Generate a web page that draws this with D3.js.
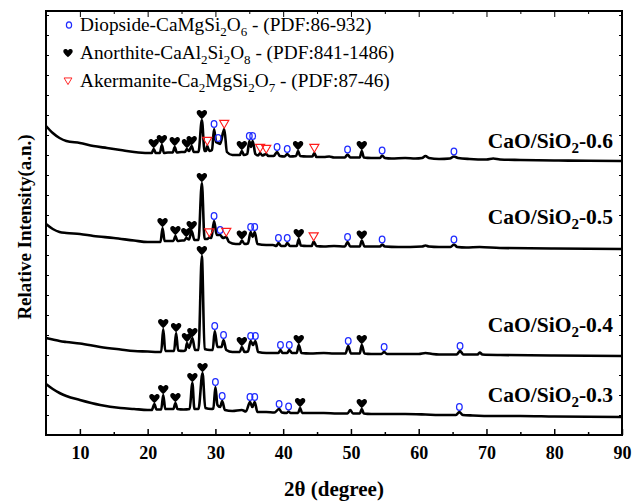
<!DOCTYPE html>
<html>
<head>
<meta charset="utf-8">
<script src="https://cdn.jsdelivr.net/npm/d3@7/dist/d3.min.js"></script>
<style>
  body { margin: 0; background: #fff; }
  svg { display: block; font-family: "Liberation Serif", "Times New Roman", serif; }
</style>
</head>
<body>
<svg id="chart" width="642" height="503"></svg>
<script>
// ---- data -------------------------------------------------------------
const xMajorTicks = [10, 20, 30, 40, 50, 60, 70, 80, 90];
const xMinorTicks = [15, 25, 35, 45, 55, 65, 75, 85];
const sampleNames = ["0.6", "0.5", "0.4", "0.3"];
// vertical stacking offset of each pattern (a.u.)
const stackOffsets = [274, 186, 79, 18];

// diffraction patterns: [2θ (deg), relative intensity (a.u.)]
const pattern06 = [
  [5, 35], [6, 28], [7, 23], [8, 20], [10, 18], [12, 15], [14, 13], [16, 11], [18, 9], [20, 8],
  [20.6, 8], [20.9, 12], [21.2, 8], [21.8, 8], [22.1, 16], [22.4, 8], [23.0, 8.5],
  [23.7, 8.5], [24.0, 14], [24.3, 8.5], [25.0, 9], [25.5, 9], [25.8, 12], [26.1, 10],
  [26.5, 15], [26.8, 9], [27.5, 9], [28.0, 41], [28.4, 10], [28.6, 10], [28.8, 15], [29.1, 10],
  [29.5, 11], [29.8, 32], [30.1, 19], [30.4, 18], [30.7, 17], [31.3, 32], [31.7, 9],
  [32.5, 6], [33.6, 6], [33.9, 10], [34.2, 6], [34.7, 7], [35.0, 20], [35.25, 14], [35.5, 20],
  [35.9, 7], [36.3, 5.5], [36.6, 8], [36.9, 5.5], [37.5, 7], [37.8, 5], [38.6, 5], [39.1, 9],
  [39.5, 5], [40.2, 4.5], [40.6, 7], [41.0, 4.5], [41.9, 5], [42.2, 10], [42.5, 5], [43.5, 4.5],
  [44.3, 4.5], [44.6, 8], [44.9, 4], [46, 4], [46.8, 4.5], [47.5, 3.5], [49.1, 3.5], [49.5, 6.5],
  [49.9, 3.5], [51.3, 3.5], [51.6, 10], [51.9, 3.5], [53, 3], [54.3, 3], [54.6, 5.5], [55.0, 3],
  [56, 2.5], [58, 3], [59.5, 2.5], [60.5, 3], [61.0, 5], [61.5, 3], [63, 2], [64.6, 2.5],
  [65.2, 4.5], [65.8, 3], [67.5, 2], [70, 1.5], [71.0, 2.5], [72, 1.5], [75, 1], [80, 0.5],
  [85, 0.3], [90, 0]
];
const pattern05 = [
  [5, 25], [6, 20], [7, 17], [8, 16], [10, 15], [12, 13], [15, 11], [18, 8.5], [20, 7], [21.5, 7],
  [21.9, 7], [22.2, 21], [22.5, 8], [23.3, 8], [23.8, 8], [24.1, 13], [24.4, 8], [25.1, 8.5],
  [25.4, 8.5], [25.7, 11], [26.1, 9.5], [26.5, 18], [26.9, 9], [27.5, 9], [28.0, 66], [28.4, 10],
  [28.8, 10], [29.1, 11.5], [29.4, 11], [29.8, 28], [30.2, 14], [30.7, 14], [31.1, 11],
  [31.6, 12], [32.0, 7], [33.0, 5], [33.6, 5], [33.9, 8.5], [34.3, 5], [34.8, 5.5], [35.2, 17],
  [35.5, 12], [35.8, 17], [36.2, 5], [37.5, 4], [38.5, 4], [39.0, 3], [39.3, 6], [39.7, 3],
  [40.3, 3], [40.6, 6], [41.0, 3], [42.0, 3], [42.3, 10], [42.6, 3.5], [43.5, 3], [44.2, 3],
  [44.5, 7.5], [44.9, 3], [46, 2.5], [47.5, 3], [49.1, 2.5], [49.5, 7], [49.9, 2.5], [51.3, 2.5],
  [51.6, 8.5], [52.0, 2.5], [53, 2.5], [54.3, 2.5], [54.6, 4.5], [55.0, 2.5], [57, 2],
  [60.5, 2.5], [61, 3.5], [61.5, 2.5], [63, 2], [64.7, 2], [65.2, 4.5], [65.7, 2], [67, 1.5],
  [69, 2], [72, 1], [80, 0.5], [90, 0]
];
const pattern04 = [
  [5, 18], [6, 16.5], [7, 15], [8, 14], [10, 12.5], [13, 9], [16, 6.5], [18, 5], [20, 4.5],
  [21.5, 4], [22.0, 4], [22.3, 27], [22.6, 5], [23.3, 5], [23.9, 5], [24.2, 23], [24.5, 5.5],
  [25.3, 5], [25.6, 6], [25.8, 13], [26.1, 8], [26.6, 18], [27.0, 6], [27.5, 6], [28.0, 100],
  [28.4, 7], [29.2, 6], [29.6, 6], [29.9, 25], [30.3, 9], [30.9, 9], [31.2, 16], [31.6, 6],
  [32.5, 4], [33.6, 4], [33.9, 9], [34.3, 4], [34.8, 4.5], [35.2, 15], [35.55, 11], [35.9, 15],
  [36.3, 4], [37.5, 3], [38.8, 3], [39.3, 3], [39.6, 6], [39.9, 3], [40.6, 3], [40.9, 6],
  [41.3, 3], [42.0, 3], [42.3, 11], [42.7, 3], [44, 2.5], [46, 3], [47.5, 2.5], [49.2, 2.5],
  [49.6, 10], [50.0, 2.5], [51.3, 2.5], [51.6, 11], [52.0, 2.5], [53, 2], [54.5, 2], [54.9, 4],
  [55.3, 2], [57, 2], [60, 2], [61, 3], [62, 2], [63, 1.5], [65.6, 1.5], [66.1, 5], [66.6, 1.5],
  [68.7, 1.5], [69.0, 3.5], [69.4, 1.5], [72, 1], [80, 0.5], [90, 0]
];
const pattern03 = [
  [5, 33], [6, 28], [7, 24], [8, 21], [10, 17], [13, 12], [16, 9], [18, 8], [20, 7], [20.6, 7],
  [21.0, 13], [21.3, 7.5], [22.0, 7.5], [22.3, 22], [22.6, 8], [23.3, 8], [23.8, 8], [24.1, 14],
  [24.4, 8], [25.3, 7.5], [26.2, 8], [26.6, 34], [26.9, 8], [27.5, 8], [28.1, 44], [28.5, 9],
  [29.4, 8], [29.7, 8.5], [30.0, 30], [30.3, 12], [30.7, 10], [31.0, 16], [31.4, 7], [32.5, 6],
  [33.9, 7], [34.5, 5.5], [35.1, 15], [35.45, 10], [35.8, 15], [36.2, 5], [37.5, 5], [38.7, 4.5],
  [39.4, 8], [39.8, 4.5], [40.5, 4], [40.8, 5.5], [41.1, 4], [42.2, 4], [42.5, 9], [42.8, 4],
  [44, 4], [46, 4], [48, 3.5], [49.5, 3.5], [49.9, 7], [50.3, 3.5], [51.3, 3.5], [51.6, 8],
  [51.9, 3.5], [53, 3], [55, 3], [58, 3], [61, 2.5], [63, 2], [65.5, 2], [66.0, 5], [66.5, 2],
  [68, 1.5], [71, 1], [75, 1], [80, 0.5], [90, 0]
];
const patterns = [pattern06, pattern05, pattern04, pattern03];

// indexed reflections (2θ) per pattern, same order as sampleNames
const anorthitePeaks = [
  [20.9, 22.1, 24.0, 25.8, 26.5, 28.0, 33.9, 42.2, 51.6],
  [22.2, 24.1, 25.7, 26.5, 28.0, 33.9, 42.3, 51.6],
  [22.3, 24.2, 25.8, 26.6, 28.0, 33.9, 42.3, 51.6],
  [21.0, 22.3, 24.1, 26.6, 28.1, 42.5, 51.6]
];
const diopsidePeaks = [
  [29.8, 30.4, 35.0, 35.5, 39.1, 40.6, 49.5, 54.6, 65.2],
  [29.8, 30.7, 35.2, 35.8, 39.3, 40.6, 49.5, 54.6, 65.2],
  [29.9, 31.2, 35.2, 35.9, 39.6, 40.9, 49.6, 54.9, 66.1],
  [30.0, 31.0, 35.1, 35.8, 39.4, 40.8, 66.0]
];
const akermanitePeaks = [
  [28.8, 31.3, 36.6, 37.5, 44.6],
  [29.1, 31.6, 44.5],
  [],
  []
];

// ---- layout -----------------------------------------------------------
const svg = d3.select("#chart");
const margin = { left: 46, right: 20, top: 11, bottom: 68 };
const W = 642, H = 503;
const x = d3.scaleLinear().domain([5, 90]).range([margin.left, W - margin.right]);
const y = d3.scaleLinear().domain([0, 424]).range([H - margin.bottom, margin.top]);

const heartPath = "M0,4.8 C-1.2,3.2 -5.2,0.6 -5.2,-2 C-5.2,-4.8 -2,-5.5 0,-2.9 C2,-5.5 5.2,-4.8 5.2,-2 C5.2,0.6 1.2,3.2 0,4.8 Z";
const triPath = "M-4.6,-3.6 L4.6,-3.6 L0,4.2 Z";
const BLUE = "#1f2bff", RED = "#ff1a1a";

function valueAt(data, t) {
  const i = d3.bisector(d => d[0]).left(data, t);
  if (i <= 0) return data[0][1];
  if (i >= data.length) return data[data.length - 1][1];
  const a = data[i - 1], b = data[i];
  return a[1] + (b[1] - a[1]) * (t - a[0]) / (b[0] - a[0]);
}

// ---- patterns ---------------------------------------------------------
const line = d3.line().x(d => x(d[0])).y(d => y(d[1])).curve(d3.curveMonotoneX);

patterns.forEach((data, k) => {
  const off = stackOffsets[k];
  const g = svg.append("g");
  g.append("path")
    .datum(data.map(d => [d[0], d[1] + off]))
    .attr("d", line)
    .attr("fill", "none")
    .attr("stroke", "#000")
    .attr("stroke-width", 2.6)
    .attr("stroke-linejoin", "round");

  const top = t => y(valueAt(data, t) + off);

  g.selectAll(".heart").data(anorthitePeaks[k]).join("path")
    .attr("d", heartPath)
    .attr("transform", t => `translate(${x(t)},${top(t) - 5.5})`)
    .attr("fill", "#000");
  g.selectAll(".dio").data(diopsidePeaks[k]).join("ellipse")
    .attr("cx", t => x(t)).attr("cy", t => top(t) - 5)
    .attr("rx", 2.8).attr("ry", 3.4)
    .attr("fill", "none").attr("stroke", BLUE).attr("stroke-width", 1.3);
  g.selectAll(".ake").data(akermanitePeaks[k]).join("path")
    .attr("d", triPath)
    .attr("transform", t => `translate(${x(t)},${top(t) - 5})`)
    .attr("fill", "none").attr("stroke", RED).attr("stroke-width", 1.1);
});

// sample labels
const labelY = [148, 224, 332, 402];
sampleNames.forEach((n, k) => {
  const t = svg.append("text")
    .attr("x", 613).attr("y", labelY[k])
    .attr("text-anchor", "end")
    .attr("font-weight", "bold").attr("font-size", 21.5);
  t.append("tspan").text("CaO/SiO");
  t.append("tspan").attr("font-size", 15).attr("dy", 5).text("2");
  t.append("tspan").attr("dy", -5).text("-" + n);
});

// ---- axes -------------------------------------------------------------
const frame = svg.append("g");
frame.append("g")
  .attr("transform", `translate(0,${H - margin.bottom})`)
  .call(d3.axisBottom(x).tickValues(xMajorTicks).tickSize(-6).tickPadding(11).tickFormat(d3.format("d")))
  .call(g => g.select(".domain").remove())
  .call(g => g.selectAll("text").attr("font-family", "Liberation Serif, Times New Roman, serif")
    .attr("font-size", 18).attr("font-weight", "bold").attr("fill", "#000"))
  .call(g => g.selectAll("line").attr("stroke-width", 1.5));
frame.append("g")
  .attr("transform", `translate(0,${H - margin.bottom})`)
  .call(d3.axisBottom(x).tickValues(xMinorTicks).tickSize(-3).tickFormat(""))
  .call(g => g.select(".domain").remove())
  .call(g => g.selectAll("line").attr("stroke-width", 1.5));
frame.append("g")
  .attr("transform", `translate(0,${margin.top})`)
  .call(d3.axisTop(x).tickValues(xMajorTicks).tickSize(-6).tickFormat(""))
  .call(g => g.select(".domain").remove());
frame.append("g")
  .attr("transform", `translate(0,${margin.top})`)
  .call(d3.axisTop(x).tickValues(xMinorTicks).tickSize(-3).tickFormat(""))
  .call(g => g.select(".domain").remove());
const yTicks = d3.range(20, 424, 20);
frame.append("g")
  .attr("transform", `translate(${margin.left},0)`)
  .call(d3.axisLeft(y).tickValues(yTicks).tickSize(-3).tickFormat(""))
  .call(g => g.select(".domain").remove());
frame.append("g")
  .attr("transform", `translate(${W - margin.right},0)`)
  .call(d3.axisRight(y).tickValues(yTicks).tickSize(-3).tickFormat(""))
  .call(g => g.select(".domain").remove());
frame.append("rect")
  .attr("x", margin.left).attr("y", margin.top)
  .attr("width", W - margin.left - margin.right)
  .attr("height", H - margin.top - margin.bottom)
  .attr("fill", "none").attr("stroke", "#000").attr("stroke-width", 2);

// axis titles
svg.append("text")
  .attr("x", (margin.left + W - margin.right) / 2).attr("y", 496)
  .attr("text-anchor", "middle").attr("font-weight", "bold").attr("font-size", 21)
  .text("2θ (degree)");
svg.append("text")
  .attr("transform", "translate(31,227) rotate(-90)")
  .attr("text-anchor", "middle").attr("font-weight", "bold").attr("font-size", 19)
  .text("Relative Intensity(a.n.)");

// ---- legend -----------------------------------------------------------
const legendRows = [
  { mark: "circle", parts: [["Diopside-CaMgSi"], ["2", 1], ["O"], ["6", 1], [" - (PDF:86-932)"]] },
  { mark: "heart", parts: [["Anorthite-CaAl"], ["2", 1], ["Si"], ["2", 1], ["O"], ["8", 1], [" - (PDF:841-1486)"]] },
  { mark: "tri", parts: [["Akermanite-Ca"], ["2", 1], ["MgSi"], ["2", 1], ["O"], ["7", 1], [" - (PDF:87-46)"]] }
];
legendRows.forEach((row, i) => {
  const cy = 25 + i * 28;
  if (row.mark === "circle") {
    svg.append("ellipse").attr("cx", 69).attr("cy", cy).attr("rx", 2.6).attr("ry", 3.2)
      .attr("fill", "none").attr("stroke", BLUE).attr("stroke-width", 1.2);
  } else if (row.mark === "heart") {
    svg.append("path").attr("d", heartPath).attr("transform", `translate(68,${cy}) scale(0.9)`).attr("fill", "#000");
  } else {
    svg.append("path").attr("d", triPath).attr("transform", `translate(68,${cy}) scale(0.85)`)
      .attr("fill", "none").attr("stroke", RED).attr("stroke-width", 1.1);
  }
  const t = svg.append("text").attr("x", 80).attr("y", cy + 6).attr("font-size", 19.3);
  let sub = false;
  row.parts.forEach(([s, isSub]) => {
    const ts = t.append("tspan").text(s);
    if (isSub && !sub) { ts.attr("dy", 5).attr("font-size", 13); sub = true; }
    else if (isSub) { ts.attr("font-size", 13); }
    else if (sub) { ts.attr("dy", -5); sub = false; }
  });
});
</script>
</body>
</html>
